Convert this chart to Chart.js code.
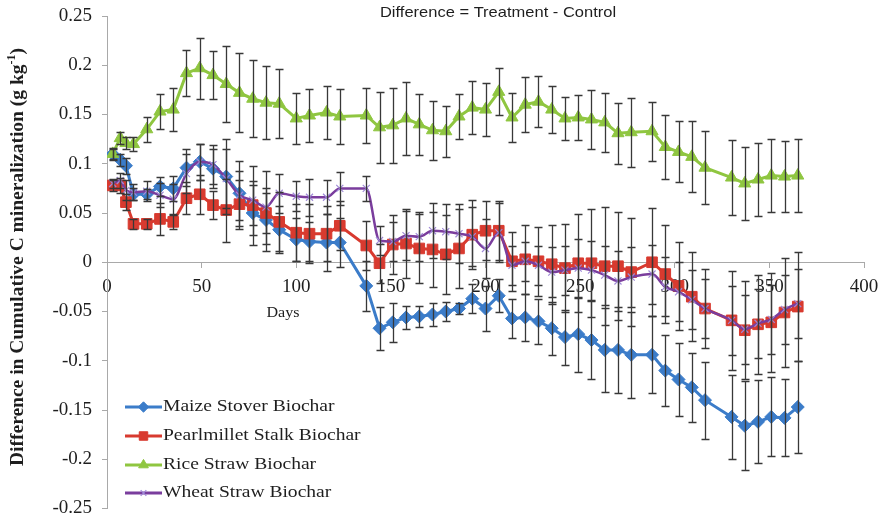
<!DOCTYPE html>
<html>
<head>
<meta charset="utf-8">
<script src="https://cdn.jsdelivr.net/npm/chart.js@4.4.1/dist/chart.umd.min.js"></script>
<style>
  html, body { margin: 0; padding: 0; background: #ffffff; }
  #wrap { width: 883px; height: 517px; }
</style>
</head>
<body>
<div id="wrap"><canvas id="chart" width="883" height="517"></canvas></div>
<script>
// Sampling days of the incubation
const days = [3, 7, 10, 14, 21, 28, 35, 42, 49, 56, 63, 70, 77, 84, 91, 100, 107, 116, 123,
  137, 144, 151, 158, 165, 172, 179, 186, 193, 200, 207, 214, 221, 228, 235, 242, 249, 256,
  263, 270, 277, 288, 295, 302, 309, 316, 330, 337, 344, 351, 358, 365];

// Difference in cumulative C mineralization (g kg-1), treatment minus control
const maizeStover = [0.110, 0.104, 0.098, 0.069, 0.069, 0.077, 0.075, 0.096, 0.102, 0.095,
  0.087, 0.070, 0.050, 0.043, 0.033, 0.023, 0.021, 0.020, 0.020, -0.024,
  -0.067, -0.061, -0.056, -0.055, -0.053, -0.050, -0.047, -0.037, -0.047, -0.034,
  -0.057, -0.056, -0.060, -0.067, -0.076, -0.073, -0.079, -0.089, -0.089, -0.094,
  -0.094, -0.110, -0.119, -0.127, -0.140, -0.157, -0.166, -0.162, -0.157, -0.158, -0.147];
const maizeStoverErr = [0.006, 0.006, 0.008, 0.006, 0.005, 0.010, 0.013, 0.019, 0.018, 0.020,
  0.038, 0.033, 0.032, 0.032, 0.024, 0.022, 0.020, 0.029, 0.025, 0.025,
  0.022, 0.020, 0.012, 0.011, 0.012, 0.010, 0.006, 0.015, 0.023, 0.017,
  0.020, 0.024, 0.023, 0.027, 0.028, 0.038, 0.040, 0.043, 0.044, 0.044,
  0.039, 0.036, 0.037, 0.035, 0.039, 0.043, 0.045, 0.042, 0.040, 0.039, 0.047];

const pearlmilletStalk = [0.078, 0.078, 0.061, 0.039, 0.039, 0.044, 0.041, 0.065, 0.069, 0.058,
  0.053, 0.059, 0.058, 0.050, 0.041, 0.030, 0.029, 0.029, 0.037, 0.017,
  -0.001, 0.018, 0.019, 0.014, 0.013, 0.008, 0.014, 0.028, 0.032, 0.032,
  0.001, 0.003, 0.001, -0.002, -0.006, -0.001, -0.001, -0.004, -0.004, -0.010,
  0.000, -0.012, -0.024, -0.035, -0.047, -0.059, -0.069, -0.063, -0.061, -0.051, -0.045];
const pearlmilletStalkErr = [0.006, 0.008, 0.008, 0.005, 0.005, 0.016, 0.007, 0.016, 0.020, 0.014,
  0.032, 0.025, 0.020, 0.020, 0.030, 0.029, 0.030, 0.028, 0.025, 0.025,
  0.020, 0.030, 0.035, 0.035, 0.038, 0.040, 0.040, 0.035, 0.030, 0.030,
  0.030, 0.035, 0.035, 0.040, 0.045, 0.050, 0.055, 0.060, 0.055, 0.055,
  0.055, 0.050, 0.045, 0.045, 0.040, 0.050, 0.050, 0.050, 0.050, 0.055, 0.055];

const riceStraw = [0.110, 0.126, 0.121, 0.120, 0.135, 0.153, 0.155, 0.192, 0.197, 0.190,
  0.181, 0.172, 0.166, 0.162, 0.161, 0.146, 0.149, 0.152, 0.148, 0.149,
  0.137, 0.139, 0.146, 0.140, 0.134, 0.133, 0.148, 0.157, 0.155, 0.173,
  0.147, 0.160, 0.163, 0.155, 0.146, 0.147, 0.145, 0.142, 0.131, 0.132,
  0.133, 0.117, 0.112, 0.107, 0.096, 0.086, 0.080, 0.084, 0.088, 0.087, 0.088];
const riceStrawErr = [0.005, 0.006, 0.006, 0.007, 0.0125, 0.018, 0.022, 0.0235, 0.031, 0.0245,
  0.039, 0.040, 0.039, 0.037, 0.035, 0.026, 0.027, 0.027, 0.028, 0.028,
  0.036, 0.038, 0.037, 0.031, 0.030, 0.026, 0.023, 0.027, 0.027, 0.024,
  0.025, 0.028, 0.026, 0.024, 0.022, 0.023, 0.030, 0.030, 0.031, 0.035,
  0.030, 0.032, 0.031, 0.036, 0.037, 0.038, 0.037, 0.037, 0.037, 0.036, 0.037];

const wheatStraw = [0.080, 0.083, 0.073, 0.071, 0.072, 0.068, 0.064, 0.090, 0.102, 0.099,
  0.085, 0.068, 0.063, 0.056, 0.070, 0.067, 0.066, 0.066, 0.075, 0.075,
  0.022, 0.021, 0.027, 0.026, 0.032, 0.031, 0.029, 0.026, 0.014, 0.030,
  -0.003, 0.001, -0.003, -0.010, -0.008, -0.006, -0.008, -0.013, -0.019, -0.015,
  -0.012, -0.025, -0.030, -0.038, -0.047, -0.059, -0.068, -0.062, -0.058, -0.048, -0.042];
const wheatStrawErr = [0.005, 0.008, 0.010, 0.008, 0.010, 0.012, 0.015, 0.020, 0.018, 0.020,
  0.030, 0.025, 0.035, 0.037, 0.020, 0.015, 0.019, 0.017, 0.017, 0.013,
  0.015, 0.020, 0.025, 0.025, 0.028, 0.028, 0.030, 0.030, 0.030, 0.030,
  0.020, 0.020, 0.020, 0.025, 0.025, 0.030, 0.030, 0.030, 0.030, 0.030,
  0.030, 0.030, 0.030, 0.030, 0.030, 0.035, 0.035, 0.035, 0.035, 0.035, 0.035];

const seriesNames = ['Maize Stover Biochar', 'Pearlmillet Stalk Biochar', 'Rice Straw Biochar', 'Wheat Straw Biochar'];
const xTicks = [0, 50, 100, 150, 200, 250, 300, 350, 400];
const yTicks = [-0.25, -0.2, -0.15, -0.1, -0.05, 0, 0.05, 0.1, 0.15, 0.2, 0.25];

const chartTitle = 'Difference = Treatment - Control';
const xTitle = 'Days';
const yTitleMain = 'Difference in Cumulative C mineralization (g kg';
const yTitleSup = '-1';
const yTitleEnd = ')';

const SERIF = '"Liberation Serif", "Times New Roman", serif';
const SANS = '"Liberation Sans", Arial, sans-serif';

function points(values) {
  return days.map((d, i) => ({ x: d, y: values[i] }));
}

// Text drawn with a slight horizontal stretch
function wideText(ctx, text, x, y, font, align, sx) {
  ctx.save();
  ctx.font = font;
  ctx.textBaseline = 'middle';
  ctx.textAlign = align;
  ctx.translate(x, y);
  ctx.scale(sx, 1);
  ctx.fillText(text, 0, 0);
  ctx.restore();
}

// Vertical error bars with caps, drawn over the series
const errorBars = {
  id: 'errorBars',
  afterDatasetsDraw(chart) {
    const ctx = chart.ctx;
    const ys = chart.scales.y;
    ctx.save();
    ctx.strokeStyle = '#383838';
    ctx.lineWidth = 1.3;
    chart.data.datasets.forEach((ds, i) => {
      const meta = chart.getDatasetMeta(i);
      meta.data.forEach((pt, j) => {
        const v = ds.data[j].y;
        const e = ds.errors[j];
        const top = Math.round(ys.getPixelForValue(v + e)) + 0.5;
        const bot = Math.round(ys.getPixelForValue(v - e)) + 0.5;
        const x = Math.round(pt.x) + 0.5;
        ctx.beginPath();
        ctx.moveTo(x, top); ctx.lineTo(x, bot);
        ctx.moveTo(x - 4, top); ctx.lineTo(x + 4, top);
        ctx.moveTo(x - 4, bot); ctx.lineTo(x + 4, bot);
        ctx.stroke();
      });
    });
    ctx.restore();
  }
};

// Title, axis titles and the legend box inside the plot
const annotations = {
  id: 'annotations',
  afterDraw(chart) {
    const ctx = chart.ctx;
    ctx.save();
    ctx.fillStyle = '#1e1e1e';

    wideText(ctx, chartTitle, 498, 13, '15px ' + SANS, 'center', 1.1);
    wideText(ctx, xTitle, 283, 313, '14px ' + SERIF, 'center', 1.15);

    // rotated y-axis title with superscript
    const mainFont = 'bold 19.5px ' + SERIF;
    const supFont = 'bold 12px ' + SERIF;
    ctx.font = mainFont;
    const wMain = ctx.measureText(yTitleMain).width;
    const wEnd = ctx.measureText(yTitleEnd).width;
    ctx.font = supFont;
    const wSup = ctx.measureText(yTitleSup).width;
    const total = wMain + wSup + wEnd;
    ctx.save();
    ctx.translate(18, 257);
    ctx.rotate(-Math.PI / 2);
    ctx.textBaseline = 'middle';
    ctx.textAlign = 'left';
    const x0 = -total / 2;
    ctx.font = mainFont;
    ctx.fillText(yTitleMain, x0, 0);
    ctx.font = supFont;
    ctx.fillText(yTitleSup, x0 + wMain, -6);
    ctx.font = mainFont;
    ctx.fillText(yTitleEnd, x0 + wMain + wSup, 0);
    ctx.restore();

    // legend
    const rowY = [407, 436, 465, 493];
    chart.data.datasets.forEach((ds, i) => {
      const y = rowY[i];
      ctx.save();
      ctx.strokeStyle = ds.borderColor;
      ctx.lineWidth = 3;
      ctx.beginPath();
      ctx.moveTo(125, y); ctx.lineTo(162, y);
      ctx.stroke();
      ctx.fillStyle = ds.pointBackgroundColor;
      ctx.strokeStyle = ds.pointBorderColor;
      ctx.lineWidth = ds.pointBorderWidth;
      Chart.helpers.drawPoint(ctx, {
        pointStyle: ds.pointStyle, radius: ds.pointRadius * 0.8,
        borderWidth: ds.pointBorderWidth, rotation: 0
      }, 143.5, y);
      ctx.restore();
      ctx.fillStyle = '#1e1e1e';
      wideText(ctx, ds.label, 163, y, '17px ' + SERIF, 'left', 1.15);
    });
    ctx.restore();
  }
};

const palette = {
  maize: '#3b7cc9',
  pearl: '#d83a2f',
  rice: '#8fc640',
  wheat: '#7a3d9d',
  wheatMark: '#a08ad8'
};

new Chart(document.getElementById('chart'), {
  type: 'line',
  data: {
    datasets: [
      {
        label: seriesNames[0], data: points(maizeStover), errors: maizeStoverErr,
        borderColor: palette.maize, backgroundColor: palette.maize, borderWidth: 3,
        pointStyle: 'rectRot', pointRadius: 6.5, pointBackgroundColor: palette.maize,
        pointBorderColor: palette.maize, pointBorderWidth: 1, tension: 0, order: 3
      },
      {
        label: seriesNames[1], data: points(pearlmilletStalk), errors: pearlmilletStalkErr,
        borderColor: palette.pearl, backgroundColor: palette.pearl, borderWidth: 3,
        pointStyle: 'rect', pointRadius: 7.5, pointBackgroundColor: palette.pearl,
        pointBorderColor: palette.pearl, pointBorderWidth: 1, tension: 0, order: 2
      },
      {
        label: seriesNames[2], data: points(riceStraw), errors: riceStrawErr,
        borderColor: palette.rice, backgroundColor: palette.rice, borderWidth: 3,
        pointStyle: 'triangle', pointRadius: 7, pointBackgroundColor: palette.rice,
        pointBorderColor: palette.rice, pointBorderWidth: 1, tension: 0, order: 1
      },
      {
        label: seriesNames[3], data: points(wheatStraw), errors: wheatStrawErr,
        borderColor: palette.wheat, backgroundColor: palette.wheat, borderWidth: 2.5,
        pointStyle: 'crossRot', pointRadius: 5, pointBackgroundColor: palette.wheatMark,
        pointBorderColor: palette.wheatMark, pointBorderWidth: 1.2,
        cubicInterpolationMode: 'monotone', order: 0
      }
    ]
  },
  options: {
    responsive: false,
    animation: false,
    devicePixelRatio: 1,
    layout: { padding: { top: 16, right: 19, bottom: 5, left: 0 } },
    plugins: {
      legend: { display: false },
      title: { display: false },
      tooltip: { enabled: false }
    },
    scales: {
      x: {
        type: 'linear',
        position: { y: 0 },
        min: 0, max: 400,
        afterBuildTicks: s => { s.ticks = xTicks.map(v => ({ value: v })); },
        afterFit: s => { s.paddingLeft = 0; s.paddingRight = 0; },
        border: { display: true, color: '#a9a9a9', width: 1 },
        grid: { display: true, drawOnChartArea: false, drawTicks: true, tickLength: 5, color: '#a9a9a9' },
        ticks: {
          font: { family: SERIF, size: 19 }, color: '#1e1e1e', padding: 8,
          maxRotation: 0, autoSkip: false,
          callback: v => String(v)
        }
      },
      y: {
        type: 'linear',
        min: -0.25, max: 0.25,
        afterBuildTicks: s => { s.ticks = yTicks.map(v => ({ value: v })); },
        afterFit: s => { s.width = 107; s.paddingTop = 0; s.paddingBottom = 0; },
        border: { display: true, color: '#a9a9a9', width: 1 },
        grid: { display: true, drawOnChartArea: false, drawTicks: true, tickLength: 5, color: '#a9a9a9' },
        ticks: {
          font: { family: SERIF, size: 19 }, color: '#1e1e1e', padding: 10,
          autoSkip: false,
          callback: v => String(Number(v.toFixed(2)))
        }
      }
    }
  },
  plugins: [errorBars, annotations]
});
</script>
</body>
</html>
